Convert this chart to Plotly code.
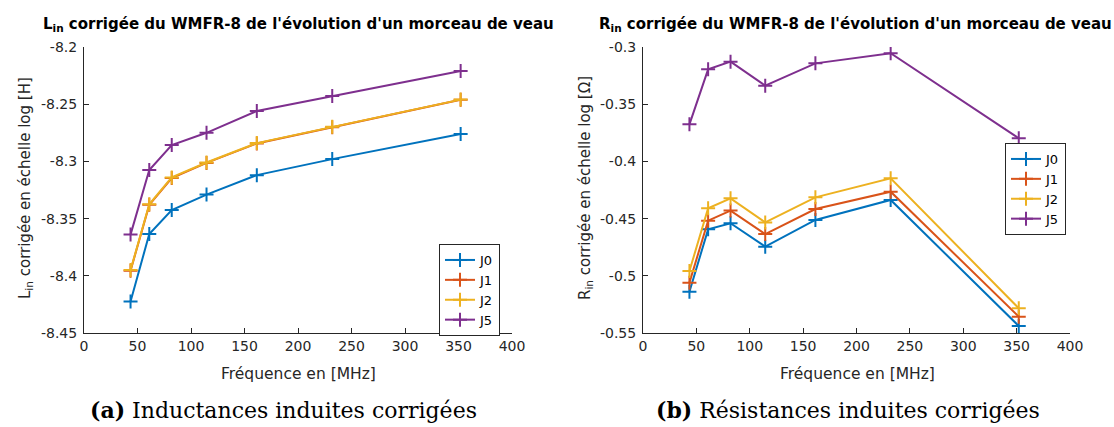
import plotly.graph_objects as go

W, H = 1114, 427

freq = [43.5, 61, 82, 114.5, 161.5, 232, 352]
series_names = ["J0", "J1", "J2", "J5"]
colors = ["#0072BD", "#D95319", "#EDB120", "#7E2F8E"]

L_J0 = [-8.4225, -8.3635, -8.3425, -8.329, -8.312, -8.298, -8.276]
L_J1 = [-8.3955, -8.338, -8.3145, -8.3013, -8.2843, -8.2702, -8.2462]
L_J2 = [-8.395, -8.3375, -8.314, -8.301, -8.284, -8.2698, -8.246]
L_J5 = [-8.364, -8.3075, -8.2857, -8.275, -8.256, -8.2428, -8.221]

R_J0 = [-0.5139, -0.4594, -0.4541, -0.4745, -0.4512, -0.4337, -0.5439]
R_J1 = [-0.506, -0.4518, -0.443, -0.4635, -0.4416, -0.4265, -0.5357]
R_J2 = [-0.4958, -0.441, -0.4323, -0.4533, -0.4314, -0.4148, -0.5284]
R_J5 = [-0.3676, -0.3195, -0.3128, -0.3338, -0.3143, -0.3055, -0.3798]

x_ticks = [0, 50, 100, 150, 200, 250, 300, 350, 400]
x_ticktext = ["0", "50", "100", "150", "200", "250", "300", "350", "400"]
L_ticks = [-8.45, -8.4, -8.35, -8.3, -8.25, -8.2]
L_ticktext = ["-8.45", "-8.4", "-8.35", "-8.3", "-8.25", "-8.2"]
R_ticks = [-0.55, -0.5, -0.45, -0.4, -0.35, -0.3]
R_ticktext = ["-0.55", "-0.5", "-0.45", "-0.4", "-0.35", "-0.3"]

title_L = "L<sub>in</sub> corrigée du WMFR-8 de l'évolution d'un morceau de veau"
title_R = "R<sub>in</sub> corrigée du WMFR-8 de l'évolution d'un morceau de veau"
ytitle_L = "L<sub>in</sub> corrigée en échelle log [H]"
ytitle_R = "R<sub>in</sub> corrigée en échelle log [Ω]"
xtitle = "Fréquence en [MHz]"
caption_L = "<b>(a)</b> Inductances induites corrigées"
caption_R = "<b>(b)</b> Résistances induites corrigées"

SANS = "DejaVu Sans, Liberation Sans, Arial"
SERIF = "DejaVu Serif, Liberation Serif"

fig = go.Figure()

for name, col, ys in zip(series_names, colors, [L_J0, L_J1, L_J2, L_J5]):
    fig.add_trace(go.Scatter(
        x=freq, y=ys, name=name, mode="lines+markers",
        line=dict(color=col, width=2),
        marker=dict(symbol="cross-thin", size=10, line=dict(color=col, width=2)),
        xaxis="x", yaxis="y", legend="legend"))

for name, col, ys in zip(series_names, colors, [R_J0, R_J1, R_J2, R_J5]):
    fig.add_trace(go.Scatter(
        x=freq, y=ys, name=name, mode="lines+markers",
        line=dict(color=col, width=2),
        marker=dict(symbol="cross-thin", size=10, line=dict(color=col, width=2)),
        xaxis="x2", yaxis="y2", legend="legend2"))

def px_x(p):
    return p / W

def px_y(p):
    return 1 - p / H

axis_common = dict(
    showgrid=False, zeroline=False, showline=True, linecolor="#262626", linewidth=1,
    ticks="inside", ticklen=5, tickcolor="#262626", tickwidth=1,
    tickfont=dict(family=SANS, size=14, color="#262626"),
    mirror=False, automargin=False,
)

fig.update_layout(
    width=W, height=H,
    margin=dict(l=0, r=0, t=0, b=0),
    paper_bgcolor="white", plot_bgcolor="white",
    font=dict(family=SANS, color="#262626"),
    xaxis=dict(domain=[px_x(84), px_x(512)], range=[0, 400], tickvals=x_ticks, ticktext=x_ticktext,
               anchor="y", **axis_common),
    yaxis=dict(domain=[px_y(333), px_y(47)], range=[-8.45, -8.2], tickvals=L_ticks, ticktext=L_ticktext,
               anchor="x", ticklabelstandoff=3, **axis_common),
    xaxis2=dict(domain=[px_x(643), px_x(1070)], range=[0, 400], tickvals=x_ticks, ticktext=x_ticktext,
                anchor="y2", **axis_common),
    yaxis2=dict(domain=[px_y(333), px_y(47)], range=[-0.55, -0.3], tickvals=R_ticks, ticktext=R_ticktext,
                anchor="x2", ticklabelstandoff=3, **axis_common),
    legend=dict(x=px_x(439), y=px_y(244), xanchor="left", yanchor="top",
                bgcolor="white", bordercolor="#262626", borderwidth=1,
                font=dict(family=SANS, size=13, color="black"),
                itemwidth=30, tracegroupgap=0),
    legend2=dict(x=px_x(1005), y=px_y(143), xanchor="left", yanchor="top",
                 bgcolor="white", bordercolor="#262626", borderwidth=1,
                 font=dict(family=SANS, size=13, color="black"),
                 itemwidth=30, tracegroupgap=0),
    showlegend=True,
)

ann = []
for t, cx in [(title_L, 298), (title_R, 855)]:
    ann.append(dict(text="<b>" + t + "</b>", x=px_x(cx), y=px_y(25), xref="paper", yref="paper",
                    showarrow=False, xanchor="center", yanchor="middle",
                    font=dict(family=SANS, size=15, color="black")))
for t, cx in [(ytitle_L, 25), (ytitle_R, 585)]:
    ann.append(dict(text=t, x=px_x(cx), y=px_y(188), xref="paper", yref="paper", textangle=-90,
                    showarrow=False, xanchor="center", yanchor="middle",
                    font=dict(family=SANS, size=15, color="#262626")))
for cx in [298, 857]:
    ann.append(dict(text=xtitle, x=px_x(cx), y=px_y(374), xref="paper", yref="paper",
                    showarrow=False, xanchor="center", yanchor="middle",
                    font=dict(family=SANS, size=15.5, color="#262626")))
for t, cx in [(caption_L, 283), (caption_R, 848)]:
    ann.append(dict(text=t, x=px_x(cx), y=px_y(410), xref="paper", yref="paper",
                    showarrow=False, xanchor="center", yanchor="middle",
                    font=dict(family=SERIF, size=22, color="black")))
fig.update_layout(annotations=ann)

fig.write_html("out.html", config={"displayModeBar": False},
               post_script="document.body.style.margin='0';document.body.style.overflow='hidden';")
